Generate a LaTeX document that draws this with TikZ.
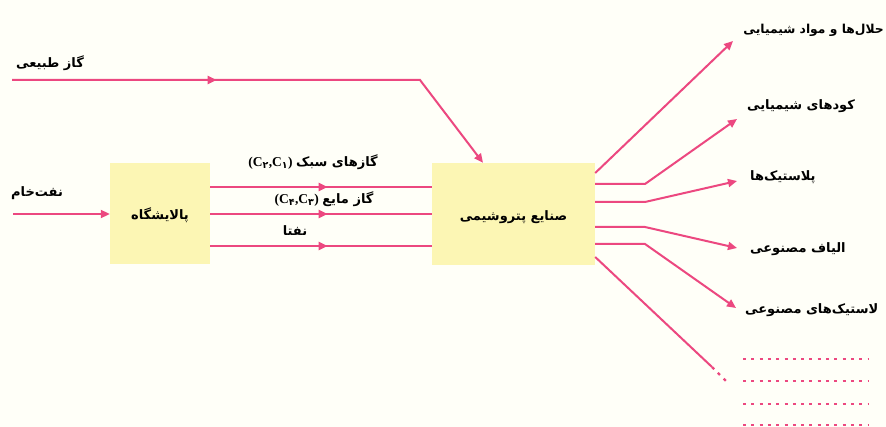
\documentclass[tikz,border=0pt]{standalone}
\usepackage{fontspec}
\setmainfont{Liberation Serif}
\newfontfamily\fa[Script=Arabic]{DejaVu Sans}
\TeXXeTstate=1
\usetikzlibrary{arrows.meta,decorations.markings}
\definecolor{pinkline}{RGB}{236,72,128}
\definecolor{boxfill}{RGB}{252,246,180}
\definecolor{bgcol}{RGB}{255,255,248}
\begin{document}
\begin{tikzpicture}[x=1pt,y=-1pt,
  flow/.style={draw=pinkline,color=pinkline,line width=2pt},
  tipend/.style={-{Triangle[length=9pt,width=8pt]}},
  midarrow/.style={postaction={decorate},decoration={markings,mark=at position #1 with {\arrow{Triangle[length=9pt,width=8pt]}}}},
  dots/.style={draw=pinkline,line width=2.2pt,dash pattern=on 3pt off 5.3pt},
  box/.style={fill=boxfill,draw=none,inner sep=0pt},
  lbl/.style={font=\fa\bfseries\fontsize{13}{15}\selectfont,inner sep=0pt,text=black},
]
\fill[bgcol] (0,0) rectangle (886,427);
\useasboundingbox (0,0) rectangle (886,427);

% boxes
\node[box,minimum width=100pt,minimum height=101pt] (ref) at (160,213.5) {};
\node[box,minimum width=163pt,minimum height=102pt] (pet) at (513.5,214) {};
\node[lbl] (reft) at (160,215) {\beginR پالایشگاه\endR};
\node[lbl] (pett) at (513.5,217) {\beginR صنایع پتروشیمی\endR};

% natural gas
\coordinate (gs) at (12,80);
\coordinate (gk) at (420,80);
\coordinate (gt) at (483,0);
\node[lbl] (gasl) at (50,63) {\beginR گاز طبیعی\endR};
\draw[flow,tipend,midarrow=0.4] (gs) -- (gk) -- (gt |- pet.north);

% crude oil
\coordinate (cs) at (13,214);
\node[lbl] (crude) at (37,193) {\beginR نفت‌خام\endR};
\draw[flow,tipend] (cs) -- (cs -| ref.west);

% refinery -> petrochemical
\coordinate (h1) at (0,187);
\coordinate (h2) at (0,214);
\coordinate (h3) at (0,246);
\draw[flow,midarrow=0.53] (ref.east |- h1) -- (pet.west |- h1);
\draw[flow,midarrow=0.53] (ref.east |- h2) -- (pet.west |- h2);
\draw[flow,midarrow=0.53] (ref.east |- h3) -- (pet.west |- h3);
\node[inner sep=0pt] (l1) at (313,162) {\bfseries\fontsize{13.5}{15}\selectfont (C\textsubscript{\fa ۲},C\textsubscript{\fa ۱})\ \fa\fontsize{13}{15}\selectfont\beginR گازهای سبک\endR};
\node[inner sep=0pt] (l2) at (324,199) {\bfseries\fontsize{13.5}{15}\selectfont (C\textsubscript{\fa ۴},C\textsubscript{\fa ۳})\ \fa\fontsize{13}{15}\selectfont\beginR گاز مایع\endR};
\node[lbl] (l3) at (295,231) {\beginR نفتا\endR};

% outputs
\coordinate (o1) at (0,173);
\coordinate (o2) at (0,184);
\coordinate (o3) at (0,202);
\coordinate (o4) at (0,227);
\coordinate (o5) at (0,244);
\coordinate (o6) at (0,257);
\coordinate (k) at (645,0);
\coordinate (t1) at (733,41);
\coordinate (t2) at (737,119);
\coordinate (t3) at (737,181);
\coordinate (t4) at (737,248);
\coordinate (t5) at (736,308);
\coordinate (s6) at (712,367);
\coordinate (e6) at (729,384);
\draw[flow,tipend] (pet.east |- o1) -- (t1);
\draw[flow,tipend] (pet.east |- o2) -- (k |- o2) -- (t2);
\draw[flow,tipend] (pet.east |- o3) -- (k |- o3) -- (t3);
\draw[flow,tipend] (pet.east |- o4) -- (k |- o4) -- (t4);
\draw[flow,tipend] (pet.east |- o5) -- (k |- o5) -- (t5);
\draw[flow] (pet.east |- o6) -- (s6);
\draw[dots] (s6) -- (e6);

\node[lbl,anchor=east,font=\fa\bfseries\fontsize{12.3}{15}\selectfont] (p1) at (884,30) {\beginR حلال‌ها و مواد شیمیایی\endR};
\node[lbl,anchor=west] (p2) at (747,106) {\beginR کودهای شیمیایی\endR};
\node[lbl,anchor=west] (p3) at (750,177) {\beginR پلاستیک‌ها\endR};
\node[lbl,anchor=west] (p4) at (750,249) {\beginR الیاف مصنوعی\endR};
\node[lbl,anchor=west] (p5) at (745,310) {\beginR لاستیک‌های مصنوعی\endR};

\coordinate (d1) at (743,359);
\coordinate (d2) at (743,381);
\coordinate (d3) at (743,404);
\coordinate (d4) at (743,425);
\coordinate (de) at (868,0);
\draw[dots] (d1) -- (d1 -| de);
\draw[dots] (d2) -- (d2 -| de);
\draw[dots] (d3) -- (d3 -| de);
\draw[dots] (d4) -- (d4 -| de);
\end{tikzpicture}
\end{document}
